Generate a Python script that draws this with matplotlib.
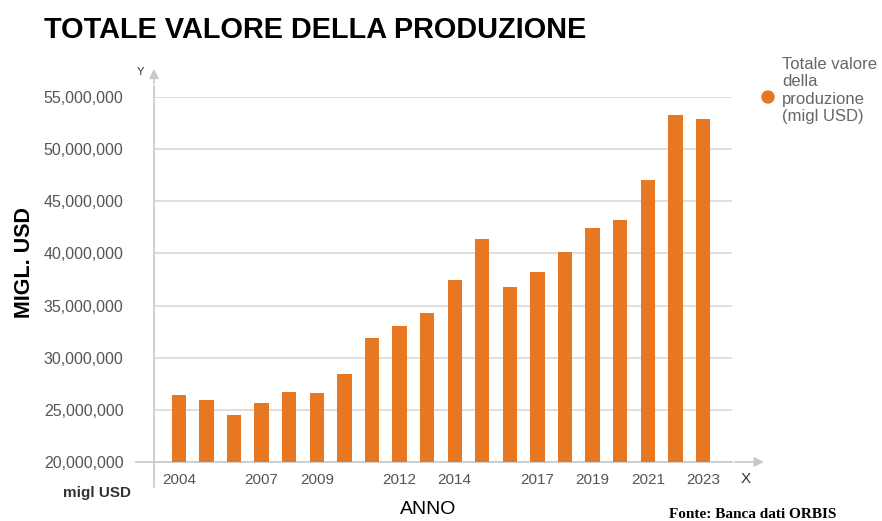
import numpy as np
import matplotlib
matplotlib.use("Agg")
import matplotlib.pyplot as plt
from matplotlib.ticker import FuncFormatter

# data (migl USD)
years = list(range(2004, 2024))
values = [26.4, 25.9, 24.5, 25.7, 26.7, 26.6, 28.4, 31.9, 33.0, 34.3,
          37.5, 41.4, 36.8, 38.2, 40.1, 42.4, 43.2, 47.0, 53.3, 52.9]
values = [v * 1e6 for v in values]
shown_years = [2004, 2007, 2009, 2012, 2014, 2017, 2019, 2021, 2023]
y_ticks = [20e6, 25e6, 30e6, 35e6, 40e6, 45e6, 50e6, 55e6]

orange = "#e87722"
plt.rcParams["font.family"] = ["Liberation Sans", "DejaVu Sans"]

W, H = 882, 521
fig = plt.figure(figsize=(W / 100, H / 100), dpi=100)
# axes box in pixels: left 154, right 732, top 97, bottom 462
ax = fig.add_axes([154 / W, 1 - 462 / H, (732 - 154) / W, (462 - 97) / H])

x = np.arange(len(years))
ax.bar(x, values, width=0.52, color=orange, zorder=3)

ax.set_xlim(-0.9, 20.05)
ax.set_ylim(20e6, 55e6)
ax.set_yticks(y_ticks)
ax.yaxis.set_major_formatter(FuncFormatter(lambda v, p: f"{int(v):,}"))
ax.set_xticks([years.index(y) for y in shown_years])
ax.set_xticklabels([str(y) for y in shown_years])
ax.tick_params(axis="y", length=0, pad=22, labelsize=11.5, labelcolor="#555555")
ax.tick_params(axis="x", length=0, pad=8, labelsize=11, labelcolor="#555555")

for s in ax.spines.values():
    s.set_visible(False)
ax.yaxis.grid(True, color="#d6d6d6", linewidth=1.1, zorder=0)
ax.set_axisbelow(True)

# axis lines with arrows
axc = "#c8c8c8"
ax.plot([0, 0], [-0.068, 1.03], transform=ax.transAxes, color=axc, lw=1.2, clip_on=False, zorder=1)
ax.annotate("", xy=(0, 1.085), xytext=(0, 1.03), xycoords="axes fraction",
            arrowprops=dict(arrowstyle="-|>", color=axc, lw=1.2, mutation_scale=14), annotation_clip=False)
ax.plot([-0.031, 1.0], [0, 0], transform=ax.transAxes, color=axc, lw=1.2, clip_on=False, zorder=1)
ax.annotate("", xy=(1.06, 0), xytext=(1.0, 0), xycoords="axes fraction",
            arrowprops=dict(arrowstyle="-|>", color=axc, lw=1.2, mutation_scale=14), annotation_clip=False)
fig.text(140 / W, 1 - 72 / H, "Y", fontsize=8, color="#333333", ha="center", va="center")
fig.text(746 / W, 1 - 479 / H, "X", fontsize=11, color="#333333", ha="center", va="center")

# titles and labels
fig.text(44 / W, 1 - 30 / H, "TOTALE VALORE DELLA PRODUZIONE", fontsize=20.8,
         fontweight="bold", color="black", ha="left", va="center")
fig.text(25 / W, 1 - 263 / H, "MIGL. USD", fontsize=15.5, fontweight="bold",
         rotation=90, ha="center", va="center", color="black")
fig.text(428 / W, 1 - 510 / H, "ANNO", fontsize=14, ha="center", va="center", color="black")
fig.text(97 / W, 1 - 493 / H, "migl USD", fontsize=11, fontweight="bold",
         ha="center", va="center", color="#333333")
fig.text(753 / W, 1 - 514 / H, "Fonte: Banca dati ORBIS", fontsize=11, fontweight="bold",
         family=["Liberation Serif", "DejaVu Serif"], ha="center", va="center", color="black")

# legend
fig.patches.append(matplotlib.patches.Ellipse((768 / W, 1 - 97 / H), 12 / W, 12 / H,
                                              transform=fig.transFigure, color=orange))
fig.text(782 / W, 1 - 57 / H, "Totale valore\ndella\nproduzione\n(migl USD)", fontsize=12,
         color="#666666", ha="left", va="top", linespacing=1.2)

plt.savefig("out.png", dpi=100)
